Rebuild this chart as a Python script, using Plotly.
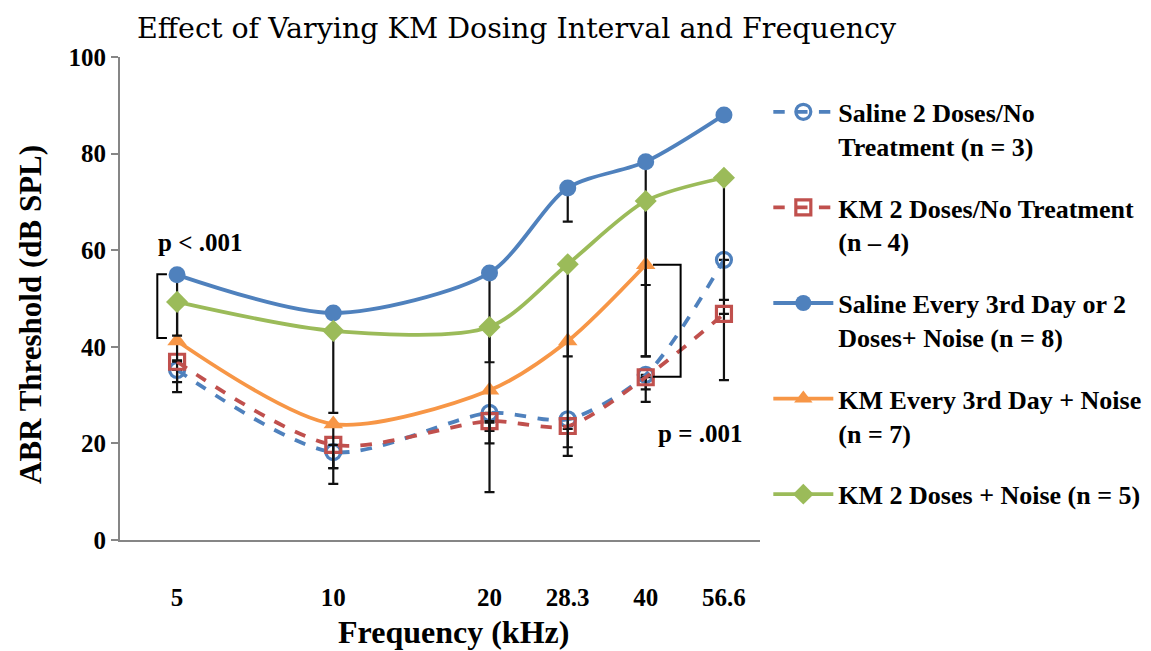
import plotly.graph_objects as go

freqs = [5, 10, 20, 28.3, 40, 56.6]
tick_text = ["5", "10", "20", "28.3", "40", "56.6"]

saline_2 = [35.2, 18.2, 26.3, 25.0, 34.2, 58.0]
km_2 = [36.9, 19.7, 24.6, 23.6, 33.7, 46.8]
saline_e3 = [54.9, 47.0, 55.3, 72.9, 78.3, 88.0]
km_e3 = [41.2, 24.0, 31.0, 41.2, 57.0, None]
km_2_noise = [49.3, 43.3, 44.1, 57.1, 70.2, 75.0]

saline_2_err = [4.6, 6.6, 2.0, 2.0, 3.0, 24.9]
km_2_err = [4.2, 4.8, 2.0, 4.4, 5.1, 0.0]
saline_e3_err = [13.5, 0.0, 18.5, 7.0, 25.5, 0.0]
km_e3_err = [4.0, 9.1, 11.0, 23.8, 19.0, 0.0]
km_2_noise_err = [7.0, 17.0, 34.2, 19.1, 32.2, 25.3]

names = [
    "Saline 2 Doses/No<br>Treatment (n = 3)",
    "KM 2 Doses/No Treatment<br>(n – 4)",
    "Saline Every 3rd Day or 2<br>Doses+ Noise (n = 8)",
    "KM Every 3rd Day + Noise<br>(n = 7)",
    "KM 2 Doses + Noise (n = 5)",
]
colors = ["#4F81BD", "#C0504D", "#4F81BD", "#F79646", "#9BBB59"]
dashes = ["dash", "dash", "solid", "solid", "solid"]
symbols = ["circle-open", "square-open", "circle", "triangle-up", "diamond"]
sizes = [15, 15, 17, 17, 17]
series = [saline_2, km_2, saline_e3, km_e3, km_2_noise]
errors = [saline_2_err, km_2_err, saline_e3_err, km_e3_err, km_2_noise_err]

# significance brackets (frequency, threshold)
bracket1_x = [4.78, 4.58, 4.58, 4.78]
bracket1_y = [55.0, 55.0, 41.8, 41.8]
bracket2_x = [41.3, 46.7, 46.7, 41.3]
bracket2_y = [57.0, 57.0, 33.8, 33.8]

SERIF = "Liberation Serif"

fig = go.Figure()
for i in range(5):
    fig.add_trace(go.Scatter(
        x=freqs, y=series[i], name=names[i], mode="lines+markers",
        line=dict(color=colors[i], width=3.8, dash=dashes[i], shape="spline", smoothing=0.8),
        marker=dict(symbol=symbols[i], size=sizes[i], color=colors[i],
                    line=dict(width=3.2 if "open" in symbols[i] else 0, color=colors[i])),
        error_y=dict(type="data", symmetric=False, array=[0] * 6, arrayminus=errors[i],
                     color="#111111", thickness=2.2, width=5),
        legendgroup=str(i),
    ))

for bx, by in [(bracket1_x, bracket1_y), (bracket2_x, bracket2_y)]:
    fig.add_trace(go.Scatter(x=bx, y=by, mode="lines", line=dict(color="black", width=2),
                             showlegend=False, hoverinfo="skip", legendgroup="br"))

fig.add_annotation(x=0.125, y=0.615, xref="paper", yref="paper", text="<b>p < .001</b>",
                   xanchor="center", yanchor="middle",
                   showarrow=False, font=dict(family=SERIF, size=25, color="black"))
fig.add_annotation(x=0.906, y=0.2215, xref="paper", yref="paper", text="<b>p = .001</b>",
                   xanchor="center", yanchor="middle",
                   showarrow=False, font=dict(family=SERIF, size=25, color="black"))
# axis titles
fig.add_annotation(x=(453 - 120) / 640, y=-(632 - 540) / 483, xref="paper", yref="paper",
                   text="<b>Frequency (kHz)</b>", xanchor="center", yanchor="middle",
                   showarrow=False, font=dict(family=SERIF, size=32, color="black"))
fig.add_annotation(x=-(120 - 30) / 640, y=(540 - 315) / 483, xref="paper", yref="paper",
                   text="<b>ABR Threshold (dB SPL)</b>", textangle=-90,
                   xanchor="center", yanchor="middle",
                   showarrow=False, font=dict(family=SERIF, size=31, color="black"))

fig.update_layout(
    width=1151, height=651,
    margin=dict(l=120, r=391, t=57, b=111, autoexpand=False),
    paper_bgcolor="white", plot_bgcolor="white",
    title=dict(text="Effect of Varying KM Dosing Interval and Frequency",
               font=dict(family="DejaVu Serif", size=28.5, color="black"),
               x=137 / 1151, xanchor="left", y=1 - 28 / 651, yanchor="middle"),
    xaxis=dict(type="log", range=[0.58897, 1.82229], tickvals=freqs, ticktext=tick_text,
               ticks="", showline=True, linecolor="#868686", linewidth=2, showgrid=False,
               zeroline=False, ticklabelstandoff=34, automargin=False,
               tickfont=dict(family=SERIF, size=25, color="black", weight="bold")),
    yaxis=dict(range=[0, 100], tickvals=[0, 20, 40, 60, 80, 100], ticks="outside",
               ticklen=7, tickcolor="#868686", tickwidth=2, showline=True,
               linecolor="#868686", linewidth=2, showgrid=False, zeroline=False,
               automargin=False,
               tickfont=dict(family=SERIF, size=25, color="black", weight="bold")),
    legend=dict(x=1.013, xanchor="left", y=0.935, yanchor="top", itemwidth=60,
                valign="top", tracegroupgap=25, traceorder="grouped",
                font=dict(family=SERIF, size=26, color="black", weight="bold"),
                bgcolor="rgba(0,0,0,0)"),
    showlegend=True,
)

fig.write_html("out.html")
